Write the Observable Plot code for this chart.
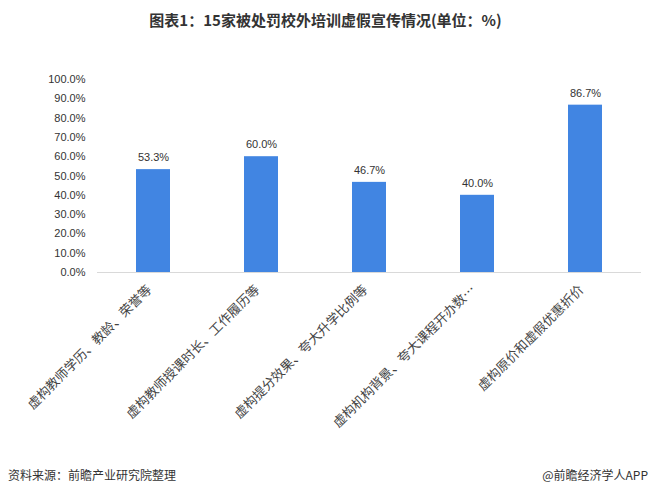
<!DOCTYPE html>
<html><head><meta charset="utf-8">
<script src="https://cdn.jsdelivr.net/npm/d3@7"></script>
<script src="https://cdn.jsdelivr.net/npm/@observablehq/plot@0.6"></script>
<style>
body{margin:0;background:#fff;width:651px;height:496px;overflow:hidden;font-family:"Noto Sans CJK SC",sans-serif;}
#title{height:40px;line-height:40px;text-align:center;font-size:15px;font-weight:bold;color:#333;}
#footer{position:relative;height:28px;font-size:12px;color:#333;}
#footer .l{position:absolute;left:8px;top:6px;}
#footer .r{position:absolute;right:3px;top:6px;}
</style></head>
<body>
<div id="title">图表1：15家被处罚校外培训虚假宣传情况(单位：%)</div>
<div id="chart"></div>
<div id="footer"><span class="l">资料来源：前瞻产业研究院整理</span><span class="r">@前瞻经济学人APP</span></div>
<script>
const categories = ["虚构教师学历、教龄、荣誉等","虚构教师授课时长、工作履历等","虚构提分效果、夸大升学比例等","虚构机构背景、夸大课程开办数…","虚构原价和虚假优惠折价"];
const values = [53.3, 60.0, 46.7, 40.0, 86.7];
const yTicks = [0,10,20,30,40,50,60,70,80,90,100];
const data = categories.map((c,i)=>({c, v: values[i]}));

const chart = Plot.plot({
  width: 651, height: 420,
  marginTop: 39, marginBottom: 188, marginLeft: 97, marginRight: 10,
  style: {fontFamily: "Liberation Sans, Arial, sans-serif", fontSize: "11px", color: "#333", background: "#fff"},
  x: {domain: categories, paddingInner: 0.6875, paddingOuter: 0.34375, axis: null},
  y: {domain: [0, 100], axis: null},
  marks: [
    Plot.axisY({ticks: yTicks, tickSize: 0, tickPadding: 12, tickFormat: d => d.toFixed(1) + "%", label: null, fontSize: 11}),
    Plot.barY(data, {x: "c", y: "v", fill: "#4185e2"}),
    Plot.ruleY([0], {stroke: "#d9d9d9", strokeWidth: 1}),
    Plot.text(data, {x: "c", y: "v", text: d => d.v.toFixed(1) + "%", dy: -12, fontSize: 11, fill: "#333"}),
    Plot.text(data, {x: "c", y: () => 0, text: "c", rotate: -45, textAnchor: "end", dx: -4, dy: 15, fontSize: 13, fill: "#444", fontFamily: "Noto Sans CJK SC"})
  ]
});
document.getElementById("chart").appendChild(chart);
</script>
</body></html>
